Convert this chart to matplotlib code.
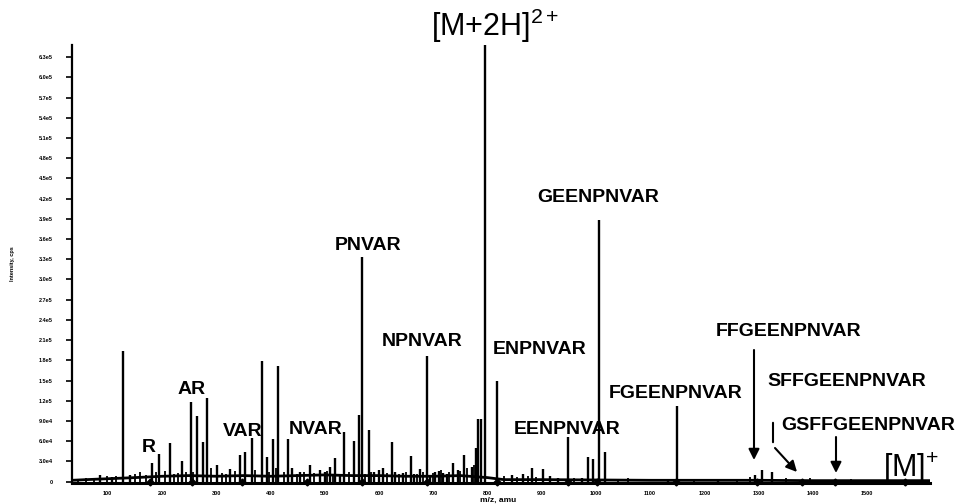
import numpy as np
import matplotlib
matplotlib.use("Agg")
import matplotlib.pyplot as plt
from matplotlib.ticker import FuncFormatter

plt.rcParams['font.family'] = ['Liberation Sans', 'DejaVu Sans']
plt.rcParams['mathtext.fontset'] = 'custom'
plt.rcParams['mathtext.rm'] = 'Liberation Sans'
plt.rcParams['mathtext.it'] = 'Liberation Sans'
plt.rcParams['mathtext.bf'] = 'Liberation Sans:bold'

# peaks (m/z, intensity in cps)
peak_mz = [85, 107, 128, 141, 181, 194, 214, 236, 253, 264, 275, 283, 301, 325,
           344, 353, 366, 384, 393, 404, 414, 432, 440, 455, 473, 491, 500, 510,
           519, 528, 535, 554, 563, 569, 581, 590, 600, 607, 624, 630, 644, 659,
           665, 676, 688, 695, 703, 710, 718, 725, 736, 745, 757, 771, 779, 783,
           788, 796, 818, 845, 866, 882, 902, 915, 930, 949, 974, 986, 995, 1006,
           1017, 1133, 1150, 1225, 1294, 1306, 1325]
peak_int = [10000, 7000, 194000, 10000, 28000, 41500, 58000, 30000, 118600, 98000,
            59000, 124500, 25000, 19000, 40000, 44500, 65000, 179000, 37000, 64000,
            172000, 64000, 20000, 15000, 25000, 18000, 15000, 22000, 35600, 12000,
            74000, 61000, 99000, 333000, 77000, 14000, 18000, 21000, 59000, 15000,
            13000, 38500, 12000, 19000, 187000, 10000, 15000, 16000, 13000, 12000,
            28000, 18000, 40000, 22000, 50000, 93000, 93000, 650000, 150000, 10000,
            12000, 21000, 19000, 8000, 6000, 67000, 6000, 37000, 33000, 388000,
            44500, 3000, 113000, 1500, 10000, 18000, 15000]

# the "grass" of small peaks
minor_mz = [45, 60, 75, 98, 115, 150, 160, 170, 188, 205, 222, 230, 245, 258, 290,
            310, 318, 335, 372, 398, 410, 425, 448, 462, 480, 505, 515, 545, 575,
            585, 615, 637, 650, 670, 682, 700, 715, 730, 750, 763, 775, 830, 855,
            875, 890, 960, 1040, 1060, 1180, 1260, 1285, 1350, 1395, 1470]
minor_int = [4000, 5000, 4000, 8000, 9000, 12000, 15000, 10000, 14000, 16000, 12000,
             13000, 15000, 14000, 20000, 13000, 12000, 16000, 18000, 14000, 20000,
             15000, 12000, 14000, 13000, 16000, 11000, 14000, 12000, 15000, 13000,
             11000, 14000, 12000, 15000, 13000, 18000, 14000, 16000, 20000, 24000,
             8000, 7000, 9000, 7000, 5000, 4000, 6000, 4000, 4000, 7000, 5000, 6000,
             4000]

# chemical noise baseline
base_mz = [34, 60, 90, 120, 150, 200, 250, 300, 350, 400, 450, 500, 550, 600, 650,
           700, 750, 800, 830, 900, 1000, 1100, 1200, 1300, 1400, 1500, 1616]
base_int = [2000, 3000, 4000, 5000, 6000, 8000, 9000, 8000, 9000, 8000, 9000, 10000,
            9000, 9000, 8000, 8000, 9000, 6000, 3000, 3000, 2500, 2000, 2000, 2000,
            1500, 1500, 1500]

# small diamonds under the annotated fragment peaks
marker_mz = [177, 255, 347, 467, 569, 688, 818, 949, 1002, 1148, 1297, 1380, 1441, 1570]

y_ticks = np.arange(0, 6.31e5, 3e4)
x_ticks = np.arange(100, 1501, 100)

W, H = 958, 504
fig = plt.figure(figsize=(W / 100, H / 100), dpi=100)
ax = fig.add_axes([72 / W, 1 - 483 / H, 858 / W, 438 / H])

ax.plot(base_mz, base_int, color='black', lw=2.0, solid_joinstyle='round')
ax.vlines(minor_mz, 0, minor_int, color='black', lw=1.3)
ax.vlines(peak_mz, 0, peak_int, color='black', lw=1.7)
ax.plot(marker_mz, [0] * len(marker_mz), 'D', color='black', ms=3.5, clip_on=False)

ax.set_xlim(34, 1616)
ax.set_ylim(-2000, 648000)

for s in ['top', 'right']:
    ax.spines[s].set_visible(False)
ax.spines['left'].set_linewidth(1.6)
ax.spines['bottom'].set_linewidth(2.2)


def sci(v, pos):
    if v == 0:
        return '0'
    e = int(np.floor(np.log10(v)))
    return '%.1fe%d' % (v / 10 ** e, e)


ax.set_yticks(y_ticks)
ax.yaxis.set_major_formatter(FuncFormatter(sci))
ax.set_xticks(x_ticks)
ax.tick_params(axis='y', length=4, width=1.2, pad=10, labelsize=4)
ax.tick_params(axis='x', length=0, pad=6, labelsize=4)
for t in ax.get_xticklabels() + ax.get_yticklabels():
    t.set_fontweight('bold')
ax.set_ylabel('Intensity, cps', fontsize=4, fontweight='bold', labelpad=17)


def fx(px):
    return px / W


def fy(py):
    return 1 - py / H


lab = dict(fontsize=14, fontweight='bold', ha='center', va='center')
labels = [('R', 149, 447), ('AR', 192, 390), ('VAR', 243, 431), ('NVAR', 316, 430),
          ('PNVAR', 368, 245), ('NPNVAR', 422, 341), ('ENPNVAR', 540, 349),
          ('EENPNVAR', 567, 429), ('GEENPNVAR', 598, 197), ('FGEENPNVAR', 676, 393),
          ('FFGEENPNVAR', 789, 331), ('SFFGEENPNVAR', 847, 381),
          ('GSFFGEENPNVAR', 868, 426)]
for txt, px, py in labels:
    fig.text(fx(px), fy(py), txt, **lab)

fig.text(fx(495), fy(26), r'[M+2H]$^{\mathregular{2+}}$', fontsize=22,
         ha='center', va='center')
fig.text(fx(911), fy(468), r'[M]$^{\mathregular{+}}$', fontsize=22,
         ha='center', va='center')
fig.text(fx(498), fy(500), 'm/z, amu', fontsize=6, fontweight='bold',
         ha='center', va='center')

arw = dict(arrowstyle='-|>', mutation_scale=16, lw=1.5, color='black',
           shrinkA=0, shrinkB=0)
ax.annotate('', xy=(754, H - 460), xytext=(754, H - 350),
            xycoords='figure pixels', textcoords='figure pixels', arrowprops=arw)
ax.annotate('', xy=(773, H - 445), xytext=(773, H - 420),
            xycoords='figure pixels', textcoords='figure pixels',
            arrowprops=dict(arrowstyle='-', lw=1.5, color='black'))
ax.annotate('', xy=(797, H - 472), xytext=(775, H - 448),
            xycoords='figure pixels', textcoords='figure pixels', arrowprops=arw)
ax.annotate('', xy=(836, H - 473), xytext=(836, H - 437),
            xycoords='figure pixels', textcoords='figure pixels', arrowprops=arw)

fig.savefig('out.png', dpi=100)
